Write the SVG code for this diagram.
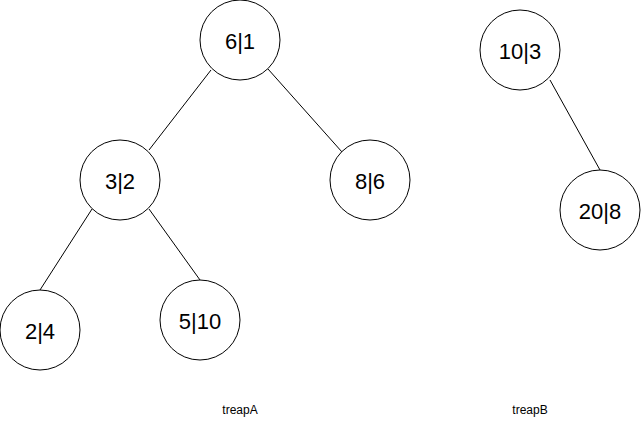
<svg xmlns="http://www.w3.org/2000/svg" width="641" height="421" viewBox="0 0 641 421">
<style>
.n{fill:#fff;stroke:#000;stroke-width:1}
.t{font-family:"Liberation Sans",Arial,sans-serif;font-size:22px;fill:#000;text-anchor:middle}
.l{font-family:"Liberation Sans",Arial,sans-serif;font-size:12px;fill:#000;text-anchor:middle}
.e{stroke:#000;stroke-width:1;fill:none}
</style>
<rect width="641" height="421" fill="#fff"/>
<g id="connectors">
<line class="e" x1="211" y1="70" x2="149" y2="150"/>
<line class="e" x1="268" y1="69" x2="342" y2="152"/>
<line class="e" x1="92" y1="209" x2="40" y2="290"/>
<line class="e" x1="149" y1="209" x2="200" y2="280"/>
<line class="e" x1="550" y1="80" x2="600" y2="170"/>
</g>
<g id="n61"><circle class="n" cx="240" cy="40" r="40"/><text class="t" x="240" y="49">6|1</text></g>
<g id="n32"><circle class="n" cx="120" cy="180" r="40"/><text class="t" x="120" y="189">3|2</text></g>
<g id="n86"><circle class="n" cx="370" cy="180" r="40"/><text class="t" x="370" y="189">8|6</text></g>
<g id="n24"><circle class="n" cx="40" cy="330" r="40"/><text class="t" x="40" y="339">2|4</text></g>
<g id="n510"><circle class="n" cx="200" cy="320" r="40"/><text class="t" x="200" y="329">5|10</text></g>
<g id="n103"><circle class="n" cx="520" cy="50" r="40"/><text class="t" x="520" y="59">10|3</text></g>
<g id="n208"><circle class="n" cx="600" cy="210" r="40"/><text class="t" x="600" y="219">20|8</text></g>
<g id="labelA"><text class="l" x="240" y="414">treapA</text></g>
<g id="labelB"><text class="l" x="530" y="414">treapB</text></g>
</svg>
